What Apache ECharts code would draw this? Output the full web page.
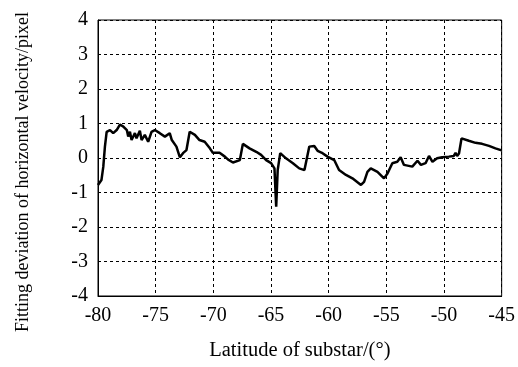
<!DOCTYPE html>
<html>
<head>
<meta charset="utf-8">
<script src="https://cdn.jsdelivr.net/npm/echarts@6/dist/echarts.min.js"></script>
<style>
  html, body { margin: 0; padding: 0; background: #fff; }
  #chart { width: 518px; height: 367px; }
</style>
</head>
<body>
<div id="chart"></div>
<script>
// latitude of substar (deg)
const latitude = [
  -80, -79.7, -79.54, -79.4, -79.25, -78.96, -78.68, -78.38, -78.1, -77.8,
  -77.5, -77.38, -77.23, -77.09, -76.8, -76.66, -76.37, -76.22, -75.94, -75.65,
  -75.36, -75.07, -74.64, -74.2, -73.78, -73.6, -73.2, -72.9, -72.63, -72.33,
  -72.05, -71.6, -71.2, -70.75, -70.3, -70.04, -69.46, -69.0, -68.74, -68.3,
  -67.7, -67.44, -66.86, -66.28, -65.86, -65.42, -64.99, -64.7, -64.55, -64.42,
  -64.2, -63.7, -63.1, -62.55, -62.1, -61.68, -61.25, -60.96, -60.53, -60.1,
  -59.52, -59.1, -58.5, -57.94, -57.2, -56.93, -56.64, -56.35, -55.77, -55.2,
  -54.9, -54.48, -54.05, -53.76, -53.47, -52.75, -52.3, -52.0, -51.6, -51.3,
  -51.0, -50.6, -50.16, -49.58, -49.15, -49.0, -48.86, -48.7, -48.48, -47.85,
  -47.27, -46.7, -46.1, -45.54, -45.0
];
// fitting deviation of horizontal velocity (pixel)
const deviation = [
  -0.78, -0.64, -0.25, 0.33, 0.76, 0.81, 0.72, 0.81, 0.97, 0.91,
  0.81, 0.62, 0.76, 0.52, 0.72, 0.57, 0.79, 0.52, 0.67, 0.47,
  0.76, 0.81, 0.72, 0.62, 0.72, 0.52, 0.33, 0.02, 0.14, 0.23,
  0.76, 0.67, 0.52, 0.47, 0.28, 0.15, 0.15, 0.04, -0.04, -0.13,
  -0.06, 0.41, 0.28, 0.18, 0.09, -0.06, -0.15, -0.3, -1.41, -0.35,
  0.14, -0.01, -0.15, -0.3, -0.35, 0.33, 0.35, 0.21, 0.14, 0.04,
  -0.06, -0.35, -0.49, -0.59, -0.78, -0.69, -0.4, -0.3, -0.4, -0.59,
  -0.45, -0.15, -0.11, 0.02, -0.2, -0.25, -0.08, -0.2, -0.15, 0.06,
  -0.11, -0.01, 0.02, 0.04, 0.06, 0.15, 0.06, 0.13, 0.57, 0.5,
  0.44, 0.41, 0.35, 0.28, 0.22
];

const font = 'Liberation Serif';
const chart = echarts.init(document.getElementById('chart'));
const option = {
  animation: false,
  grid: {
    left: 98,
    right: 15,
    top: 20,
    bottom: 71,
    show: true,
    borderColor: '#000',
    borderWidth: 1
  },
  xAxis: {
    type: 'value',
    min: -80,
    max: -45,
    interval: 5,
    name: 'Latitude of substar/(°)',
    nameLocation: 'middle',
    nameGap: 44,
    nameTextStyle: { fontFamily: font, fontSize: 20.5, color: '#000' },
    axisLine: { show: true, onZero: false, lineStyle: { color: '#000' } },
    axisTick: { show: false },
    axisLabel: { fontFamily: font, fontSize: 20, color: '#000', margin: 10 },
    splitLine: { show: true, lineStyle: { color: '#000', type: [3, 3], width: 1 } }
  },
  yAxis: {
    type: 'value',
    min: -4,
    max: 4,
    interval: 1,
    name: 'Fitting deviation of horizontal velocity/pixel',
    nameLocation: 'middle',
    nameGap: 66,
    nameTextStyle: { fontFamily: font, fontSize: 18, color: '#000', padding: [0, 28, 0, 0] },
    axisLine: { show: true, onZero: false, lineStyle: { color: '#000' } },
    axisTick: { show: false },
    axisLabel: { fontFamily: font, fontSize: 20, color: '#000', margin: 10 },
    splitLine: { show: true, lineStyle: { color: '#000', type: [3, 3], width: 1 } }
  },
  series: [{
    type: 'line',
    data: latitude.map((x, i) => [x, deviation[i]]),
    showSymbol: false,
    lineStyle: { color: '#000', width: 2.5 }
  }]
};
chart.setOption(option);
</script>
</body>
</html>
